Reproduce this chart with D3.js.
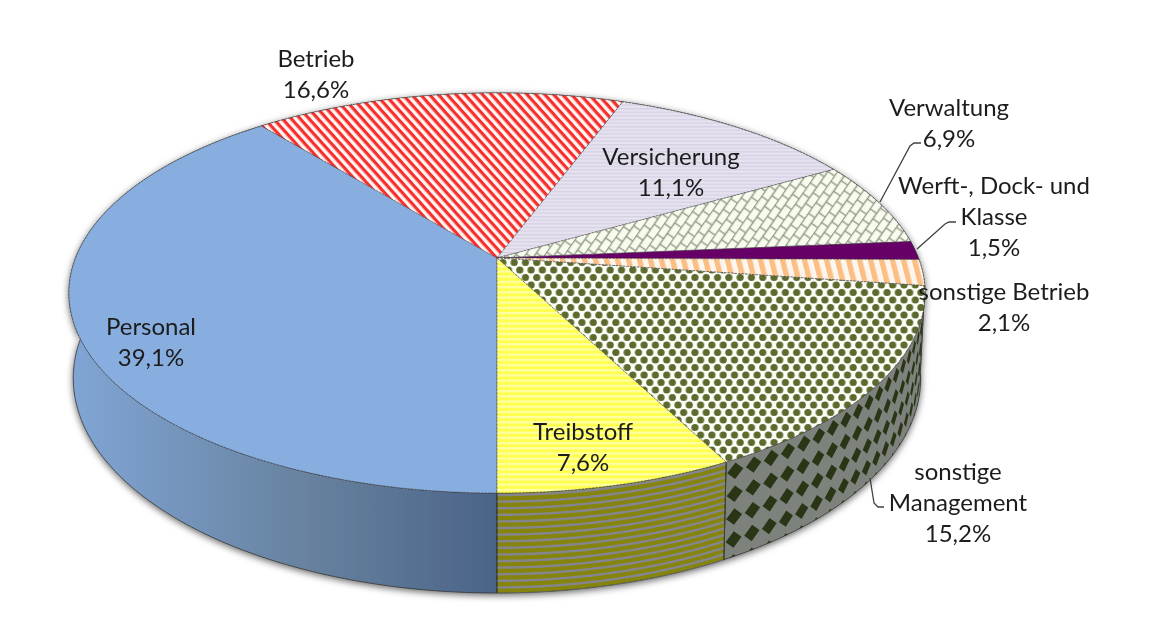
<!DOCTYPE html>
<html>
<head>
<meta charset="utf-8">
<script src="https://cdn.jsdelivr.net/npm/d3@7"></script>
<style>
  html, body { margin: 0; padding: 0; background: #fff; }
  text { font-family: Lato, "Open Sans", sans-serif; font-size: 24px; fill: #1c1c1c; text-anchor: middle; }
</style>
</head>
<body>
<div id="chart"></div>
<script>
// values, clockwise from the front of the pie
var categories = ["Personal", "Betrieb", "Versicherung", "Verwaltung", "Werft-, Dock- und Klasse", "sonstige Betrieb", "sonstige Management", "Treibstoff"];
var shares = [39.1, 16.6, 11.1, 6.9, 1.5, 2.1, 15.2, 7.6];
var labelLines = [["Personal"], ["Betrieb"], ["Versicherung"], ["Verwaltung"], ["Werft-, Dock- und", "Klasse"], ["sonstige Betrieb"], ["sonstige", "Management"], ["Treibstoff"]];

// layout only
var labelCentres = [[151, 327], [316, 59], [671, 157], [949, 108], [994, 186], [1004, 292], [958, 472], [583, 432]];
var topFills = ["#88aedf", "url(#pBetrieb)", "url(#pVers)", "url(#pVerw)", "#660066", "url(#pSonstB)", "url(#pMgmt)", "url(#pTreib)"];
var wallFills = ["url(#wallBlue)", "#667", "#667", "#667", "#660066", "#fbbf85", "#7d827b", "#858510"];
var leaders = [
  [[880, 202], [910, 146], [914, 143], [921, 143]],
  [[917, 249], [945, 224], [949, 222], [956, 222]],
  [[870, 478], [874, 503], [878, 507], [884, 507]]
];

var width = 1153, height = 619;
var cx = 497, cy = 258;
var persp = 0.175;   // how much the front of the disc is nearer than the back
var wallDepth = 82.5;

var svg = d3.select("#chart").append("svg")
  .attr("width", width)
  .attr("height", height)
  .style("display", "block");

var defs = svg.append("defs");

var soft = defs.append("filter").attr("id", "soft")
  .attr("filterUnits", "userSpaceOnUse")
  .attr("x", 0).attr("y", 0).attr("width", width).attr("height", height);
soft.append("feGaussianBlur").attr("stdDeviation", 0.6);

var shadow = defs.append("filter").attr("id", "shadow")
  .attr("x", "-5%").attr("y", "-5%").attr("width", "110%").attr("height", "115%");
shadow.append("feDropShadow").attr("dx", 0).attr("dy", 2).attr("stdDeviation", 3.5)
  .attr("flood-color", "#000").attr("flood-opacity", 0.6);

var grad = defs.append("linearGradient").attr("id", "wallBlue")
  .attr("gradientUnits", "userSpaceOnUse")
  .attr("x1", 75).attr("x2", 497).attr("y1", 0).attr("y2", 0);
grad.append("stop").attr("offset", "0%").attr("stop-color", "#80a4d4");
grad.append("stop").attr("offset", "55%").attr("stop-color", "#67829f");
grad.append("stop").attr("offset", "100%").attr("stop-color", "#4a6488");

function makePattern(id, w, h, bg, transform) {
  var p = defs.append("pattern").attr("id", id)
    .attr("patternUnits", "userSpaceOnUse")
    .attr("width", w).attr("height", h);
  if (transform) p.attr("patternTransform", transform);
  p.append("rect").attr("width", w).attr("height", h).attr("fill", bg);
  return p;
}

// red diagonal stripes
makePattern("pBetrieb", 6.6, 6.6, "#fff6f2", "rotate(48)")
  .append("rect").attr("width", 6.6).attr("height", 3.2).attr("fill", "#f72f2f");

// lavender, fine horizontal lines
makePattern("pVers", 4, 3.6, "#e6e2f0")
  .append("rect").attr("width", 4).attr("height", 1.3).attr("fill", "#d6d2e4");

// brick hatch, bricks standing on a steep slant
var verw = makePattern("pVerw", 13, 16, "#f8fcee", "rotate(-55)");
verw.append("path").attr("d", "M0,0.5H13M0,8.5H13M3,0.5V8.5M9.5,8.5V16").attr("fill", "none")
  .attr("stroke", "#949a88").attr("stroke-width", 1.4);

// orange stripes
makePattern("pSonstB", 11, 11, "#fdf6ee", "skewX(14)")
  .append("rect").attr("width", 5.5).attr("height", 11).attr("fill", "#fbbf85");

// olive dots on white
var mgmt = makePattern("pMgmt", 11.3, 15, "#fbfdf6");
[[0, 0], [11.3, 0], [0, 15], [11.3, 15], [5.65, 7.5]].forEach(function(c) {
  mgmt.append("circle").attr("cx", c[0]).attr("cy", c[1]).attr("r", 3.6).attr("fill", "#5d6b2f");
});

// yellow bands
makePattern("pTreib", 4, 5.2, "#ffff4e")
  .append("rect").attr("width", 4).attr("height", 2.2).attr("fill", "#ffffa6");

// disc centre is not the ellipse centre, the disc is seen in perspective
var xScale = d3.scaleLinear().domain([-1, 1]).range([cx - 421.4, cx + 421.4]);
var yScale = d3.scaleLinear().domain([-1, 1]).range([cy - 193.9, cy + 193.9]);

function topPoint(a) {
  var u = Math.sin(a), v = -Math.cos(a), w = 1 - persp * v;
  return [xScale(u / w), yScale(v / w)];
}

// h = 0 at the rim, h = 1 at the bottom edge of the wall
function wallPoint(a, h) {
  var p = topPoint(a), v = -Math.cos(a), w = 1 - persp * v;
  return [cx + (p[0] - cx) * (1 - 0.01 * h), p[1] + h * wallDepth / w];
}

var line = d3.line();

function arcAngles(s, e) {
  var n = Math.max(2, Math.ceil((e - s) / 0.01));
  return d3.range(n + 1).map(function(i) { return s + (e - s) * i / n; });
}

var pie = d3.pie().sort(null).startAngle(Math.PI).endAngle(3 * Math.PI);
var slices = pie(shares);

function topPath(d) {
  var pts = arcAngles(d.startAngle, d.endAngle).map(topPoint);
  return line([[cx, cy]].concat(pts)) + "Z";
}

function wallPath(d) {
  var as = arcAngles(d.startAngle, d.endAngle);
  var upper = as.map(function(a) { return wallPoint(a, 0); });
  var lower = as.slice().reverse().map(function(a) { return wallPoint(a, 1); });
  return line(upper.concat(lower)) + "Z";
}

var chart = svg.append("g").attr("filter", "url(#soft)");

var walls = chart.append("g").attr("filter", "url(#shadow)");
walls.selectAll("path")
  .data(slices)
  .enter()
  .append("path")
  .attr("d", wallPath)
  .attr("fill", function(d, i) { return wallFills[i]; })
  .attr("stroke", "#333")
  .attr("stroke-width", 0.8);

// wall details, clipped to their own slice
slices.forEach(function(d, i) {
  defs.append("clipPath").attr("id", "wallClip" + i)
    .append("path").attr("d", wallPath(d));
});

// Treibstoff wall: grey lines following the rim
var treibWall = slices[7];
chart.append("g").attr("clip-path", "url(#wallClip7)")
  .selectAll("path")
  .data(d3.range(0.02, 1.02, 0.066))
  .enter()
  .append("path")
  .attr("d", function(h) {
    return line(arcAngles(treibWall.startAngle, treibWall.endAngle).map(function(a) { return wallPoint(a, h); }));
  })
  .attr("fill", "none")
  .attr("stroke", "#85858f")
  .attr("stroke-width", 2.4);

// Management wall: dark diamonds that get narrower toward the right edge
var mgmtWall = slices[6];
var stepA = 0.0455, stepH = 0.235;
var diamonds = [];
d3.range(0, 30).forEach(function(c) {
  d3.range(0, 5).forEach(function(r) {
    var a = mgmtWall.endAngle - stepA * (c + 0.5);
    if (a > mgmtWall.startAngle - stepA) diamonds.push([a, 0.12 + r * stepH]);
  });
});
chart.append("g").attr("clip-path", "url(#wallClip6)")
  .selectAll("path")
  .data(diamonds)
  .enter()
  .append("path")
  .attr("d", function(d) {
    var da = stepA * 0.43, dh = stepH * 0.36;
    return line([
      wallPoint(d[0] + da, d[1]),
      wallPoint(d[0], d[1] - dh),
      wallPoint(d[0] - da, d[1]),
      wallPoint(d[0], d[1] + dh)
    ]) + "Z";
  })
  .attr("fill", "#2b3418");

// front edge of the wall at the two visible slice borders
chart.append("g").selectAll("path")
  .data([slices[0].startAngle, slices[7].startAngle])
  .enter()
  .append("path")
  .attr("d", function(a) { return line([wallPoint(a, 0), wallPoint(a, 1)]); })
  .attr("stroke", "#3a3f35")
  .attr("stroke-width", 1);

// top of the disc
chart.append("g").selectAll("path")
  .data(slices)
  .enter()
  .append("path")
  .attr("d", topPath)
  .attr("fill", function(d, i) { return topFills[i]; })
  .attr("stroke", "#444")
  .attr("stroke-width", 0.6)
  .attr("stroke-dasharray", "2.5 1");

// leader lines
chart.append("g").selectAll("path")
  .data(leaders)
  .enter()
  .append("path")
  .attr("d", function(d) { return line(d); })
  .attr("fill", "none")
  .attr("stroke", "#404040")
  .attr("stroke-width", 1.3);

// labels: name lines, then the share with a decimal comma
var labels = chart.append("g");
labelLines.forEach(function(lines, i) {
  var rows = lines.concat(shares[i].toFixed(1).replace(".", ",") + "%");
  rows.forEach(function(row, j) {
    labels.append("text")
      .attr("x", labelCentres[i][0])
      .attr("y", labelCentres[i][1] + 8 + j * 31)
      .text(row);
  });
});
</script>
</body>
</html>
